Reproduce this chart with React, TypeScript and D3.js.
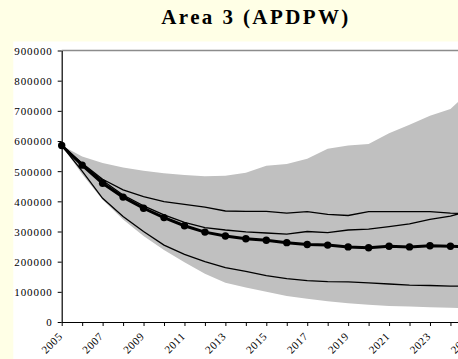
import React, { useEffect, useRef } from 'react'
import * as d3 from 'd3'

// years on the category axis, labels only on every other one
const years = [2005, 2006, 2007, 2008, 2009, 2010, 2011, 2012, 2013, 2014, 2015, 2016, 2017, 2018, 2019, 2020, 2021, 2022, 2023, 2024, 2025]
const yTicks = [0, 100000, 200000, 300000, 400000, 500000, 600000, 700000, 800000, 900000]

// grey band (range of runs)
const bandUpper = [585000, 549000, 527000, 512000, 501000, 493000, 487000, 483000, 485000, 495000, 518000, 524000, 541000, 574000, 585000, 590000, 626000, 654000, 684000, 706000, 770000]
const bandLower = [585000, 490000, 405000, 340000, 285000, 239000, 198000, 160000, 130000, 114000, 100000, 86000, 77000, 69000, 62000, 57000, 53000, 51000, 49000, 47000, 46000]

// thin lines
const upperLine = [585000, 526000, 473000, 438000, 416000, 399000, 390000, 381000, 368000, 367000, 367000, 361000, 366000, 357000, 353000, 366000, 366000, 366000, 366000, 361000, 358000]
const midLine = [585000, 523000, 469000, 421000, 385000, 355000, 330000, 313000, 305000, 299000, 295000, 291000, 300000, 296000, 305000, 308000, 316000, 325000, 340000, 351000, 370000]
const lowerLine = [585000, 500000, 410000, 350000, 300000, 255000, 224000, 200000, 180000, 168000, 154000, 144000, 137000, 134000, 133000, 130000, 126000, 122000, 121000, 119000, 118000]

// thick line with markers
const median = [585000, 520000, 460000, 414000, 377000, 346000, 319000, 298000, 285000, 276000, 271000, 263000, 257000, 255000, 249000, 246000, 251000, 249000, 253000, 251000, 250000]

const W = 458
const H = 359
const serif = 'Liberation Serif'

export default function App() {
    const xAxisRef = useRef<SVGGElement>(null)
    const yAxisRef = useRef<SVGGElement>(null)

    const x = d3.scaleLinear().domain([2005, 2025]).range([61.7, 470.9])
    const y = d3.scaleLinear().domain([0, 900000]).range([322, 50.5])

    const line = d3.line<number>()
        .x((d, i) => x(years[i]))
        .y(d => y(d))

    const area = d3.area<number>()
        .x((d, i) => x(years[i]))
        .y0((d, i) => y(bandLower[i]))
        .y1(d => y(d))

    useEffect(() => {
        const gy = d3.select(yAxisRef.current)
        gy.selectAll('*').remove()
        gy.attr('font-family', serif)
        gy.call(d3.axisLeft(y).tickValues(yTicks).tickSize(4).tickSizeOuter(0).tickFormat(d3.format('d')) as any)
        gy.attr('font-family', serif).attr('font-size', 11)
        gy.select('.domain').attr('stroke', '#000').attr('stroke-width', 1.2)
        gy.selectAll('.tick line').attr('stroke', '#000')
        gy.selectAll('.tick text')
            .attr('x', -9)
            .attr('dy', '0.35em')
            .style('letter-spacing', '0.9px')
            .attr('fill', '#000')

        const gx = d3.select(xAxisRef.current)
        gx.selectAll('*').remove()
        gx.call(d3.axisBottom(x).tickValues(years).tickSize(4).tickSizeOuter(0)
            .tickFormat(d => ((d as number) - 2005) % 2 === 0 ? String(d) : '') as any)
        gx.attr('font-family', serif).attr('font-size', 11)
        gx.select('.domain').attr('stroke', '#000').attr('stroke-width', 1.2)
        gx.selectAll('.tick line').attr('stroke', '#000')
        gx.selectAll('.tick text')
            .attr('y', 0)
            .attr('dy', 0)
            .attr('transform', 'translate(1,15) rotate(-45)')
            .style('text-anchor', 'end')
            .style('letter-spacing', '0.6px')
            .attr('fill', '#000')
    }, [])

    return (
        <svg width={W} height={H} style={{ position: 'absolute', left: 0, top: 0 }}>
            <rect x={0} y={0} width={W} height={H} fill="#FFFFE6" />
            <rect x={13.3} y={41.5} width={W} height={H} fill="#fff" />
            <text x={256} y={24} textAnchor="middle" fontFamily={serif} fontWeight="bold"
                fontSize={21} letterSpacing={2.4}>Area 3 (APDPW)</text>

            <path d={area(bandUpper) ?? ''} fill="#C0C0C0" />
            <line x1={x(2005)} x2={x(2025)} y1={y(900000)} y2={y(900000)} stroke="#8c8c8c" strokeWidth={1.5} />

            {[upperLine, midLine, lowerLine].map((s, i) => (
                <path key={i} d={line(s) ?? ''} fill="none" stroke="#000" strokeWidth={1.3} />
            ))}
            <path d={line(median) ?? ''} fill="none" stroke="#000" strokeWidth={3} />
            {median.map((v, i) => (
                <circle key={i} cx={x(years[i])} cy={y(v)} r={3.7} fill="#000" />
            ))}

            <g ref={yAxisRef} transform={`translate(${x(2005)},0)`} />
            <g ref={xAxisRef} transform={`translate(0,${y(0)})`} />
        </svg>
    )
}
